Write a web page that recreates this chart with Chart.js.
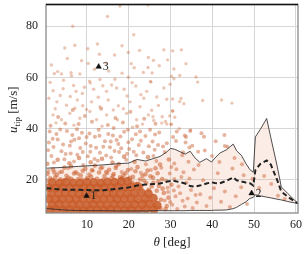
<!DOCTYPE html>
<html lang="en">
<head>
    <meta charset="UTF-8">
    <title>Tip speed vs angle</title>
    <script src="https://cdn.jsdelivr.net/npm/chart.js"></script>
    <style>
        body { margin: 0; background: #fff; }
    </style>
</head>
<body>
<canvas id="tipChart" width="308" height="254"></canvas>

<script>
    // tick labels
    const xTicks = [10, 20, 30, 40, 50, 60];
    const yTicks = [20, 40, 60, 80];

    // band: upper / median / lower, on common angles
    const bandX = [0.3, 3, 5, 8, 11, 14, 17, 20, 22, 24, 26, 27.5, 29, 30, 31, 32.3, 33.5, 34.7, 35.9, 37, 38.6, 39.8, 40.6, 41.8, 43.4, 45, 45.8, 47, 48, 49, 49.8, 50.3, 51.5, 53, 54, 55.5, 56.5, 58, 60.5];
    const upperY = [24.6, 24.8, 25.0, 25.3, 25.6, 25.9, 26.3, 26.6, 28.0, 27.4, 28.4, 29.2, 30.8, 32.3, 32.0, 31.0, 30.1, 31.2, 28.5, 26.9, 28.3, 27.0, 28.5, 30.5, 31.8, 34.0, 31.4, 29.5, 26.5, 24.0, 23.0, 36.8, 39.8, 44.0, 36.5, 25.5, 17.3, 14.8, 10.8];
    const medianY = [16.8, 16.4, 16.2, 16.2, 16.0, 16.0, 16.5, 17.1, 17.8, 18.2, 18.4, 18.6, 19.3, 19.6, 19.6, 19.1, 18.6, 17.6, 17.4, 17.8, 18.6, 19.1, 18.8, 18.7, 19.7, 21.0, 19.9, 19.4, 19.0, 18.7, 17.8, 23.8, 26.3, 27.6, 26.0, 20.0, 15.5, 13.5, 10.8];
    const lowerY = [8.8, 8.5, 8.2, 8.1, 8.0, 8.0, 7.9, 7.9, 7.9, 7.9, 8.0, 8.0, 8.0, 8.0, 8.0, 8.0, 8.0, 8.1, 8.1, 8.1, 8.1, 8.1, 8.2, 8.2, 8.3, 8.8, 9.3, 10.5, 11.4, 12.8, 13.2, 14.2, 13.8, 13.3, 13.0, 12.5, 12.2, 11.6, 10.8];

    // marked cases
    const markX = [9.9, 49.4, 12.8];
    const markY = [13.8, 14.8, 64.2];
    const markLabels = ['1', '2', '3'];

    // scatter, dense core
    const densePts = [
        [1.0,8.3],[2.6,8.5],[4.3,8.2],[5.9,8.4],[7.6,8.3],[9.1,8.1],[10.8,8.4],[12.4,8.3],[14.1,8.2],[15.7,8.5],[17.3,8.3],[19.0,8.2],[20.6,8.4],[22.3,8.3],[24.1,8.6],[26.0,8.4],
        [1.6,10.4],[3.3,10.6],[4.9,10.3],[6.6,10.5],[8.2,10.4],[9.9,10.2],[11.5,10.5],[13.2,10.4],[14.8,10.3],[16.5,10.6],[18.1,10.4],[19.8,10.3],[21.4,10.5],[23.2,10.4],[25.0,10.7],[26.8,10.2],
        [0.9,12.6],[2.5,12.4],[4.1,12.7],[5.8,12.6],[7.4,12.5],[9.0,12.7],[10.7,12.6],[12.3,12.4],[14.0,12.6],[15.6,12.7],[17.2,12.5],[18.9,12.6],[20.5,12.8],[22.2,12.5],[24.0,12.7],[25.9,12.9],
        [1.5,14.8],[3.2,14.7],[4.8,14.9],[6.4,14.8],[8.1,14.6],[9.7,14.9],[11.4,14.8],[13.0,14.7],[14.7,14.9],[16.3,14.8],[17.9,14.6],[19.6,14.9],[21.3,14.8],[23.0,15.1],[24.7,14.7],
        [0.9,17.0],[2.6,16.9],[4.2,17.1],[5.9,17.0],[7.5,16.8],[9.2,17.1],[10.8,17.0],[12.5,16.9],[14.1,17.1],[15.8,17.0],[17.4,17.2],[19.0,17.1],[20.7,17.3],[22.2,17.5],
        [1.7,19.0],[3.4,18.8],[5.0,19.1],[6.7,18.9],[8.3,18.8],[10.0,19.1],[11.6,19.0],[13.3,18.8],[14.9,19.2],[16.6,19.1],[18.2,19.4],[19.7,19.5]
    ];

    // scatter, fringe of the core
    const edgePts = [
        [0.6,22.4],[1.9,24.1],[2.8,21.9],[4.0,23.2],[5.1,21.6],[6.2,25.3],[7.3,23.0],[8.5,21.8],[9.6,24.4],[10.6,22.1],[11.9,25.6],[12.9,22.9],[14.2,21.5],[15.3,24.0],[16.4,22.3],[17.6,26.2],[18.7,21.7],[19.8,23.9],[21.0,21.2],[22.1,25.0],[23.3,21.6],[24.5,23.7],[25.8,20.9],[26.9,22.6],[28.0,20.4],
        [27.2,17.6],[28.4,14.9],[27.7,12.3],[29.1,9.8],[26.7,15.8],[30.2,18.1],[25.9,18.9],[23.6,19.8],[24.8,16.2],[23.9,11.5],[26.3,10.1],[28.8,8.6],[27.6,8.9],[28.1,16.6],[29.5,13.1],[27.1,19.4],
        [0.5,26.3],[3.0,27.9],[5.8,26.5],[8.1,28.6],[10.9,26.9],[13.6,28.3],[16.1,26.8],[18.9,29.1],[21.4,27.1],[24.6,28.9],[27.5,26.0],[29.6,28.0],
        [1.2,20.6],[2.2,22.9],[3.6,20.3],[4.6,24.8],[5.6,20.8],[6.9,22.5],[7.9,20.4],[9.0,23.6],[10.1,20.7],[11.2,23.8],[12.4,20.5],[13.3,24.6],[14.6,23.1],[15.9,20.6],[16.9,24.7],[17.9,21.0],[19.2,22.6],[20.3,20.8],[21.6,23.4],[22.7,20.2],[24.0,22.2],[25.2,21.4],[26.4,24.6],
        [0.4,19.7],[2.4,21.0],[4.4,19.9],[6.2,20.5],[8.8,20.2],[11.0,21.2],[13.9,20.1],[16.2,21.6],[18.4,20.6],[20.9,19.0],[21.9,18.5],[23.0,17.3],[24.2,18.8],[25.5,17.5]
    ];

    // scatter, medium density
    const midPts = [
        [0.8,23.5],[2.1,26.8],[3.4,22.9],[4.6,28.1],[5.5,24.6],[6.9,27.2],[7.8,22.4],[9.1,25.8],[10.2,29.3],[11.4,23.7],[12.6,27.5],[13.7,24.9],[14.9,22.6],[15.8,28.8],[17.0,25.4],[18.3,23.1],[19.4,27.9],[20.6,24.3],[21.8,29.6],[22.9,22.8],[24.1,26.1],[25.3,23.9],[26.6,27.4],[27.8,24.8],
        [1.5,29.4],[3.9,31.2],[6.1,30.3],[8.4,32.5],[10.8,31.0],[13.1,30.6],[15.5,32.8],[17.7,30.9],[20.1,32.1],[23.5,30.7],[26.2,31.8],
        [0.9,34.6],[2.7,37.9],[4.3,33.8],[5.2,39.1],[7.0,35.7],[8.8,38.4],[9.7,34.2],[11.9,36.9],[12.8,39.6],[14.3,35.1],[16.2,37.4],[17.5,34.0],[18.9,38.8],[20.8,35.9],[22.4,33.6],[24.0,37.2],[25.7,35.0],[27.3,38.5],[29.1,34.3],[30.6,36.8],
        [1.3,41.2],[3.1,44.6],[4.8,42.0],[6.6,47.3],[8.0,41.8],[9.5,45.0],[11.2,42.7],[13.4,47.8],[15.0,41.5],[16.8,44.2],[18.6,42.4],[20.4,46.6],[22.0,41.0],[23.7,43.9],[26.4,41.9],
        [2.0,32.9],[3.0,35.8],[4.9,30.1],[5.9,33.4],[6.5,37.6],[7.7,29.8],[9.0,30.9],[9.9,36.8],[10.9,33.3],[11.8,28.2],[12.2,32.6],[13.9,33.0],[14.6,29.5],[15.1,37.9],[16.6,31.3],[17.1,35.6],[18.2,32.4],[19.6,30.2],[19.9,34.7],[21.2,31.0],[21.7,37.8],[22.9,35.3],[24.8,33.2],[25.9,29.4],[27.0,33.6],[28.6,30.9],
        [0.7,31.6],[1.8,36.1],[3.6,39.7],[6.2,35.0],[8.1,36.3],[10.6,38.1],[13.0,37.3],[15.7,35.0],[18.0,37.0],[19.8,39.6],[22.7,38.9],[25.1,39.6],[1.1,38.9],[7.6,39.8],[16.4,40.3],
        [27.4,9.2],[28.6,12.0],[29.4,15.3],[28.9,19.8],[29.8,22.5],[30.4,10.3],[31.2,13.6],[31.9,17.4],[32.6,21.2],[33.4,9.6],[34.1,12.8],[34.9,16.1],[35.6,24.1],[36.3,11.2],[37.1,14.4],[37.8,19.9],[38.6,9.8],[39.5,13.1],[40.4,16.8],[41.3,22.6],[42.1,11.5],[43.0,15.5],[44.2,9.4],[44.8,24.5],[45.6,13.6],[46.9,17.2],[47.5,21.8],[48.3,10.6],[49.6,20.5],[51.2,16.9],[52.4,21.5],[54.1,18.4],[55.7,13.8],[57.3,12.6],
        [29.9,11.4],[30.8,15.9],[31.6,8.7],[32.9,11.9],[33.8,18.9],[35.3,9.1],[36.0,14.1],[29.3,17.0],[30.9,20.4],[32.3,14.8],[31.4,24.2],[33.1,23.0],[34.5,20.6],[30.2,25.1],
        [30.9,26.4],[32.8,29.6],[34.3,27.1],[36.7,25.8],[38.2,31.5],[39.9,29.4],[41.7,27.0],[43.6,33.0],[45.3,28.6],[47.1,26.1],[35.2,33.4],[33.7,36.8],[37.4,38.2],[31.5,38.9],[40.8,35.1],[42.9,37.6],[26.3,37.7],[28.2,33.1],
        [31.3,35.2],[33.4,37.4],[34.7,39.1],[38.0,36.9],[33.6,34.6],[34.5,32.7],[36.6,31.0],[43.0,33.3],[33.0,30.8]
    ];

    // scatter, sparse upper region
    const sparsePts = [
        [17.9,87.9],[24.6,88.3],[14.9,83.8],[6.6,80.0],[21.2,76.7],[4.7,71.5],[7.1,72.6],[10.2,71.2],[12.5,73.1],[18.4,72.4],[13.0,69.1],[16.6,68.8],[19.9,69.8],[28.4,70.8],[5.3,67.4],[24.7,67.8],[30.5,70.4],[32.6,70.8],
        [10.3,65.5],[21.3,63.8],[24.6,63.9],[18.4,61.7],[23.5,62.0],[2.2,61.5],[3.0,62.3],[3.9,61.4],[6.2,61.9],[6.3,60.7],[8.3,61.4],[10.6,58.6],[13.1,59.2],[16.7,59.3],[19.9,60.1],[25.9,66.7],[29.3,66.9],[25.6,61.8],[30.8,63.3],[30.2,60.5],[32.2,60.8],[30.8,59.5],[36.1,60.2],[36.5,58.2],[25.3,58.2],[28.4,55.9],[29.9,57.4],
        [1.9,54.8],[4.3,55.6],[6.8,56.9],[7.4,54.6],[10.8,57.9],[11.6,55.4],[14.7,54.6],[17.1,55.9],[18.9,55.4],[21.7,56.7],[24.3,54.6],[25.2,58.5],
        [2.8,50.5],[5.1,49.2],[7.7,51.2],[9.0,49.0],[11.1,50.5],[13.1,48.6],[15.1,51.2],[17.5,49.0],[20.3,50.5],[22.7,48.6],[26.7,52.4],[29.1,51.5],[30.5,51.6],[32.5,51.8],[32.2,50.6],[33.2,49.8],[37.7,51.0],[42.2,51.2],[44.7,50.0],[27.1,49.1],
        [1.9,45.4],[3.9,43.5],[5.9,46.0],[8.3,44.1],[10.7,46.7],[12.3,43.5],[14.7,45.4],[17.3,43.5],[19.5,46.0],[21.9,43.5],[24.7,45.4],[25.5,47.2],[30.5,47.0],[25.8,44.7],[28.0,44.7],[29.8,45.0],[31.0,44.5],[26.0,43.2],[28.8,42.8],[27.9,42.2],[29.1,41.8],[30.1,41.8],[32.1,40.0],[34.8,39.5],
        [1.2,58.1],[3.6,53.0],[6.0,52.6],[8.9,53.8],[12.7,52.3],[15.9,57.1],[19.6,52.8],[22.9,53.3],[4.4,58.9],[9.4,56.2],[13.8,56.8],[20.8,58.0],[2.4,47.8],[7.1,48.0],[9.9,47.5],[16.3,47.3],[18.7,47.8],[23.6,51.9],[0.9,51.9],[11.8,63.2],[15.2,62.5],[8.7,66.6],[20.6,65.4],[1.5,64.9],[27.3,64.6],[22.6,70.6],[33.7,65.4],[2.6,42.3],[6.9,41.4],[13.6,41.0],[20.9,40.6],[23.3,41.8],[14.6,65.6],[30.2,41.7],[30.5,46.8]
    ];

    const toXY = pts => pts.map(p => ({x: p[0], y: p[1]}));
    const band = ys => bandX.map((x, i) => ({x: x, y: ys[i]}));
    const dot = a => `rgba(200, 92, 42, ${a})`;
    const serif = '"Liberation Serif", "DejaVu Serif", serif';

    const frameAndText = {
        id: 'frameAndText',
        afterDraw(chart) {
            const {ctx, chartArea: a, scales} = chart;
            const xs = scales.x, ys = scales.y;
            ctx.save();
            ctx.lineWidth = 1.3;
            ctx.strokeStyle = '#8a8a8a';
            ctx.strokeRect(a.left, a.top, a.right - a.left, a.bottom - a.top);
            ctx.strokeStyle = '#111';
            ctx.beginPath(); ctx.moveTo(a.left, a.top); ctx.lineTo(a.right, a.top); ctx.stroke();

            ctx.fillStyle = '#222';
            ctx.font = '12px ' + serif;
            ctx.textBaseline = 'middle';
            markLabels.forEach((t, i) => {
                ctx.fillText(t, xs.getPixelForValue(markX[i]) + 4, ys.getPixelForValue(markY[i]) + 0.5);
            });

            // x title: θ [deg]
            ctx.textBaseline = 'alphabetic';
            ctx.font = 'italic 13px ' + serif;
            const wT = ctx.measureText('θ').width;
            ctx.font = '13px ' + serif;
            const wD = ctx.measureText(' [deg]').width;
            let x0 = (a.left + a.right) / 2 - (wT + wD) / 2;
            ctx.font = 'italic 13px ' + serif;
            ctx.fillText('θ', x0, 246);
            ctx.font = '13px ' + serif;
            ctx.fillText(' [deg]', x0 + wT, 246);

            // y title: u_tip [m/s]
            ctx.translate(17, (a.top + a.bottom) / 2 + 1);
            ctx.rotate(-Math.PI / 2);
            ctx.font = 'italic 13px ' + serif;
            const wU = ctx.measureText('u').width;
            ctx.font = '9px ' + serif;
            const wS = ctx.measureText('tip').width;
            ctx.font = '13px ' + serif;
            const wM = ctx.measureText(' [m/s]').width;
            let p = -(wU + wS + wM) / 2;
            ctx.font = 'italic 13px ' + serif;
            ctx.fillText('u', p, 0);
            ctx.font = '9px ' + serif;
            ctx.fillText('tip', p + wU, 3);
            ctx.font = '13px ' + serif;
            ctx.fillText(' [m/s]', p + wU + wS, 0);
            ctx.restore();
        }
    };

    const ctx = document.getElementById('tipChart').getContext('2d');
    const chart = new Chart(ctx, {
        type: 'scatter',
        data: {
            datasets: [
                {
                    label: 'upper',
                    type: 'line',
                    data: band(upperY),
                    borderColor: '#222',
                    borderWidth: 0.8,
                    pointRadius: 0,
                    fill: {target: 2},
                    backgroundColor: 'rgba(240, 168, 142, 0.22)',
                    order: 2
                },
                {
                    label: 'median',
                    type: 'line',
                    data: band(medianY),
                    borderColor: '#222',
                    borderWidth: 2,
                    borderDash: [5, 3],
                    pointRadius: 0,
                    fill: false,
                    order: 2
                },
                {
                    label: 'lower',
                    type: 'line',
                    data: band(lowerY),
                    borderColor: '#222',
                    borderWidth: 0.8,
                    pointRadius: 0,
                    fill: false,
                    order: 2
                },
                {
                    label: 'core',
                    data: toXY(densePts),
                    backgroundColor: dot(0.86),
                    borderWidth: 0,
                    pointRadius: 4.4,
                    order: 7
                },
                {
                    label: 'edge',
                    data: toXY(edgePts),
                    backgroundColor: dot(0.55),
                    borderWidth: 0,
                    pointRadius: 2.3,
                    order: 6
                },
                {
                    label: 'mid',
                    data: toXY(midPts),
                    backgroundColor: dot(0.45),
                    borderWidth: 0,
                    pointRadius: 2,
                    order: 6
                },
                {
                    label: 'sparse',
                    data: toXY(sparsePts),
                    backgroundColor: dot(0.35),
                    borderWidth: 0,
                    pointRadius: 1.7,
                    order: 6
                },
                {
                    label: 'cases',
                    data: markX.map((x, i) => ({x: x, y: markY[i]})),
                    pointStyle: 'triangle',
                    pointRadius: 3.2,
                    backgroundColor: '#111',
                    borderColor: '#111',
                    borderWidth: 0.5,
                    order: 1
                }
            ]
        },
        options: {
            responsive: false,
            animation: false,
            layout: {padding: {top: 1, right: 10, left: 0, bottom: 0}},
            plugins: {
                legend: {display: false},
                tooltip: {enabled: false},
                filler: {drawTime: 'beforeDatasetsDraw'}
            },
            scales: {
                x: {
                    type: 'linear',
                    min: 0.2,
                    max: 60.5,
                    afterBuildTicks: s => { s.ticks = xTicks.map(v => ({value: v})); },
                    afterFit: s => { s.height = 41; s.paddingLeft = 0; s.paddingRight = 0; },
                    grid: {color: '#d6d6d6', lineWidth: 1, drawTicks: false},
                    border: {display: false},
                    ticks: {color: '#222', font: {family: serif, size: 12}, padding: 5, maxRotation: 0}
                },
                y: {
                    type: 'linear',
                    min: 7.1,
                    max: 88.5,
                    afterBuildTicks: s => { s.ticks = yTicks.map(v => ({value: v})); },
                    afterFit: s => { s.width = 46; s.paddingTop = 0; s.paddingBottom = 0; },
                    grid: {color: '#d6d6d6', lineWidth: 1, drawTicks: false},
                    border: {display: false},
                    ticks: {color: '#222', font: {family: serif, size: 12}, padding: 8}
                }
            }
        },
        plugins: [frameAndText]
    });
</script>
</body>
</html>
